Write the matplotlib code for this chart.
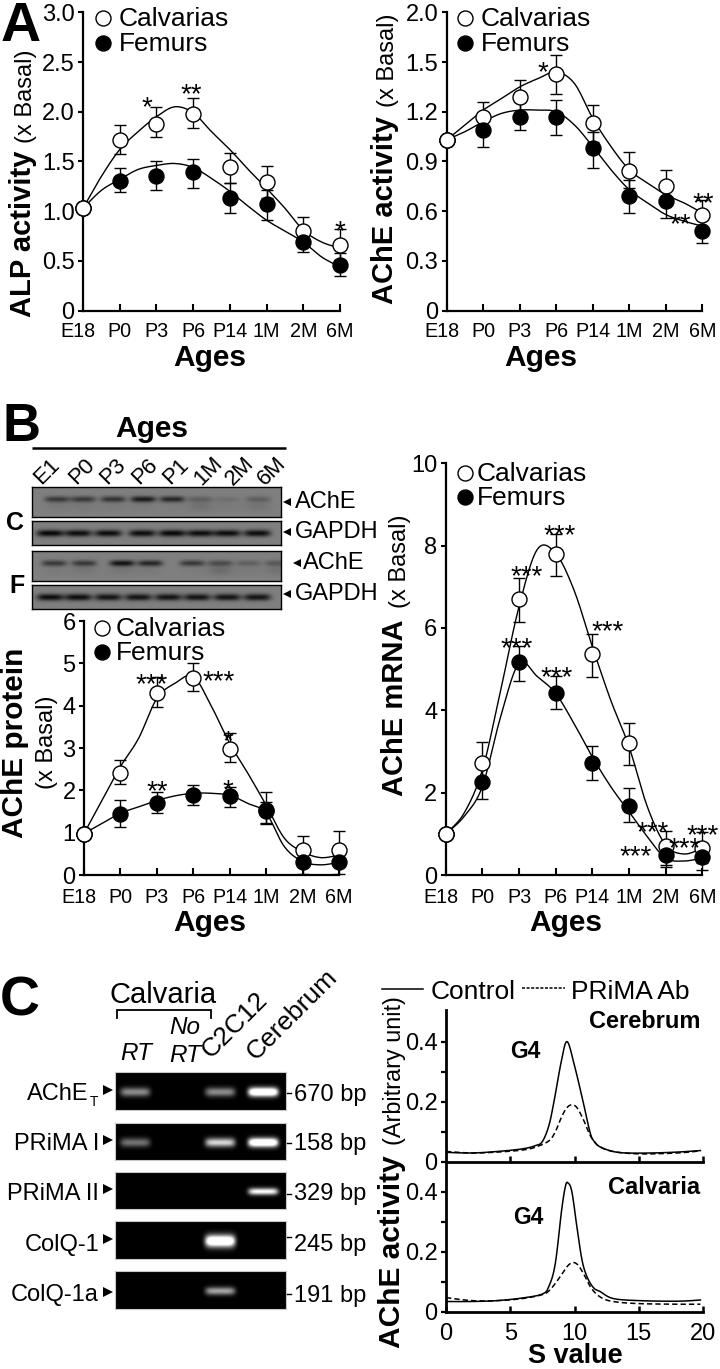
import numpy as np
import matplotlib
matplotlib.use('Agg')
import matplotlib.pyplot as plt
from matplotlib.transforms import ScaledTranslation

plt.rcParams['font.family'] = ['Liberation Sans', 'DejaVu Sans']

W, H = 720, 1369

ages = ['E18', 'P0', 'P3', 'P6', 'P14', '1M', '2M', '6M']

# ALP activity
alp_calv = [1.03, 1.72, 1.88, 1.98, 1.44, 1.29, 0.80, 0.66]
alp_calv_top = [1.03, 1.87, 2.05, 2.14, 1.59, 1.45, 0.94, 0.82]
alp_calv_low = [1.03, 1.58, 1.75, 1.84, 1.28, 1.13, 0.65, 0.51]
alp_fem = [1.03, 1.30, 1.35, 1.39, 1.13, 1.07, 0.69, 0.46]
alp_fem_top = [1.03, 1.43, 1.51, 1.53, 1.28, 1.21, 0.80, 0.58]
alp_fem_low = [1.03, 1.19, 1.21, 1.23, 0.98, 0.91, 0.59, 0.35]
alp_calv_line = [1.03, 1.35, 1.62, 1.80, 1.95, 2.05, 1.99, 1.80, 1.62, 1.42, 1.23, 1.03, 0.81, 0.69, 0.63]
alp_fem_line = [1.03, 1.21, 1.32, 1.42, 1.46, 1.48, 1.44, 1.33, 1.20, 1.05, 0.91, 0.80, 0.69, 0.54, 0.44]

# AChE activity, the axis has equal steps of 0.3 and its top tick is labelled 2.0
ache_calv = [1.03, 1.17, 1.29, 1.43, 1.13, 0.84, 0.75, 0.58]
ache_calv_top = [1.03, 1.26, 1.39, 1.54, 1.24, 0.96, 0.85, 0.67]
ache_calv_low = [1.03, 1.08, 1.19, 1.31, 1.02, 0.74, 0.65, 0.49]
ache_fem = [1.03, 1.09, 1.17, 1.17, 0.98, 0.69, 0.66, 0.48]
ache_fem_top = [1.03, 1.19, 1.26, 1.27, 1.08, 0.79, 0.76, 0.56]
ache_fem_low = [1.03, 0.99, 1.09, 1.06, 0.86, 0.59, 0.56, 0.41]
ache_calv_line = [1.03, 1.12, 1.21, 1.28, 1.35, 1.40, 1.44, 1.37, 1.16, 0.99, 0.85, 0.77, 0.70, 0.65, 0.59]
ache_fem_line = [1.03, 1.08, 1.14, 1.19, 1.21, 1.21, 1.20, 1.12, 0.99, 0.85, 0.73, 0.65, 0.58, 0.54, 0.51]

# AChE protein
prot_calv = [0.98, 2.42, 4.29, 4.66, 2.98, 1.54, 0.58, 0.58]
prot_calv_top = [0.98, 2.72, 4.68, 5.00, 3.35, 1.95, 0.92, 1.04]
prot_calv_low = [0.98, 2.15, 3.98, 4.35, 2.67, 1.20, 0.30, 0.30]
prot_fem = [0.98, 1.45, 1.71, 1.90, 1.87, 1.52, 0.30, 0.30]
prot_fem_top = [0.98, 1.77, 1.97, 2.13, 2.09, 1.73, 0.61, 0.61]
prot_fem_low = [0.98, 1.14, 1.47, 1.65, 1.61, 1.22, 0.02, 0.02]
prot_calv_line = [0.98, 1.77, 2.56, 3.23, 4.17, 4.53, 4.69, 3.98, 3.11, 2.40, 1.65, 0.87, 0.55, 0.41, 0.47]
prot_fem_line = [0.98, 1.22, 1.46, 1.61, 1.76, 1.87, 1.93, 1.93, 1.88, 1.69, 1.46, 0.67, 0.32, 0.24, 0.30]

# AChE mRNA
mrna_calv = [1.00, 2.71, 6.71, 7.80, 5.36, 3.21, 0.70, 0.66]
mrna_calv_top = [1.00, 3.23, 7.22, 8.29, 5.85, 3.70, 1.08, 1.05]
mrna_calv_low = [1.00, 2.20, 6.15, 7.26, 4.82, 2.67, 0.24, 0.28]
mrna_fem = [1.00, 2.27, 5.17, 4.41, 2.73, 1.68, 0.48, 0.44]
mrna_fem_top = [1.00, 2.63, 5.57, 4.84, 3.14, 2.11, 0.77, 0.77]
mrna_fem_low = [1.00, 1.84, 4.71, 4.02, 2.31, 1.28, 0.19, 0.11]
mrna_calv_line = [1.00, 1.50, 2.55, 4.49, 6.52, 7.91, 7.81, 6.92, 5.55, 4.25, 3.12, 1.66, 0.73, 0.51, 0.65]
mrna_fem_line = [1.00, 1.42, 2.15, 3.85, 5.14, 4.82, 4.41, 3.68, 2.87, 2.15, 1.54, 0.93, 0.41, 0.34, 0.41]

# western blot band strengths, one per lane
c_ache_main = [.55, .55, .60, .80, .70, .25, .12, .25]
c_ache_lower = [.15, .15, .10, .10, .05, .30, .10, .25]
f_ache_main = [.55, .55, .85, .70, .55, .40, .25, .30]
f_ache_lower = [.10, .20, .20, .10, .05, .40, .10, .25]
c_gapdh = [.95, .90, .90, .90, .95, .90, .90, .90]
f_gapdh = [.90, .90, .85, .85, .85, .85, .85, .85]
lane_names = ['E1', 'P0', 'P3', 'P6', 'P1', '1M', '2M', '6M']

# RT-PCR gels, band brightness for RT, No RT, C2C12, Cerebrum
gel_names = ['PRiMA I', 'PRiMA II', 'ColQ-1', 'ColQ-1a']
gel_sizes = ['670 bp', '158 bp', '329 bp', '245 bp', '191 bp']
gel_ache = [.55, 0, .55, 1.4]
gel_prima1 = [.45, 0, .85, 1.4]
gel_prima2 = [0, 0, 0, 1.0]
gel_colq1 = [0, 0, 1.4, 0]
gel_colq1a = [0, 0, .65, 0]

# sucrose gradient profiles
cer_ctrl_s = [0, 2, 4, 6, 7, 7.5, 8, 8.4, 9, 9.43, 10, 10.67, 11.2, 11.5, 12, 13, 14, 16, 18, 19.8]
cer_ctrl = [.032, .030, .035, .044, .055, .068, .12, .20, .34, .40, .32, .20, .10, .07, .05, .035, .030, .030, .033, .038]
cer_ab_s = [0, 2, 4, 6, 7, 8, 8.5, 9, 9.4, 9.8, 10.2, 10.7, 11.2, 11.6, 12, 13, 15, 18, 19.8]
cer_ab = [.035, .030, .033, .040, .050, .070, .10, .15, .18, .19, .18, .14, .09, .065, .05, .035, .027, .030, .037]
cal_ctrl_s = [0, 2, 4, 6, 7.5, 8, 8.5, 9, 9.3, 9.5, 9.8, 10.2, 10.6, 11, 11.5, 12, 13, 15, 18, 19.8]
cal_ctrl = [.035, .035, .038, .047, .060, .085, .16, .34, .42, .43, .40, .28, .17, .115, .08, .068, .045, .038, .036, .040]
cal_ab_s = [0, 2, 4, 6, 7.5, 8, 8.5, 9, 9.5, 9.9, 10.3, 10.8, 11.3, 12, 13, 15, 18, 19.8]
cal_ab = [.048, .038, .038, .045, .058, .070, .095, .125, .155, .165, .155, .12, .08, .05, .035, .028, .026, .026]

fig = plt.figure(figsize=(W / 100, H / 100), dpi=100)


def make_ax(left, right, top, bottom):
    ax = fig.add_axes([left / W, 1 - bottom / H, (right - left) / W, (bottom - top) / H])
    ax.patch.set_visible(False)
    return ax


over = make_ax(0, W, 0, H)
over.set_xlim(0, W)
over.set_ylim(H, 0)
over.axis('off')
over.set_zorder(10)


def txt(x, y, s, size=17, ha='left', va='center', **kw):
    over.text(x, y, s, fontsize=size, ha=ha, va=va, color='black', **kw)


def smooth(x, y, n=12):
    # Catmull-Rom through the points
    p = np.column_stack([x, y]).astype(float)
    p = np.vstack([p[0], p, p[-1]])
    out = []
    for i in range(1, len(p) - 2):
        t = np.linspace(0, 1, n, endpoint=False)[:, None]
        out.append(0.5 * (2 * p[i] + (p[i + 1] - p[i - 1]) * t
                          + (2 * p[i - 1] - 5 * p[i] + 4 * p[i + 1] - p[i + 2]) * t ** 2
                          + (3 * p[i] - p[i - 1] - 3 * p[i + 1] + p[i + 2]) * t ** 3))
    out.append(p[-2:-1])
    out = np.vstack(out)
    return out[:, 0], out[:, 1]


def age_panel(box, ylim, yticks, ylabels, calv, calv_top, calv_low, fem, fem_top, fem_low, calv_line, fem_line, pad):
    ax = make_ax(*box)
    x = np.arange(8)
    lx = np.arange(15) / 2
    for line in (calv_line, fem_line):
        sx, sy = smooth(lx, line)
        ax.plot(sx, sy, color='black', lw=1.0, zorder=1, clip_on=False)
    for v, top, low in ((calv, calv_top, calv_low), (fem, fem_top, fem_low)):
        v = np.array(v)
        ax.errorbar(x, v, yerr=[v - np.array(low), np.array(top) - v], fmt='none', ecolor='black',
                    elinewidth=1.0, capsize=4.3, capthick=1.0, zorder=2, clip_on=False)
    ax.plot(x, calv, 'o', ms=10.8, mfc='white', mec='black', mew=1.0, zorder=3, clip_on=False)
    ax.plot(x, fem, 'o', ms=10.8, mfc='black', mec='black', mew=1.0, zorder=4, clip_on=False)
    ax.plot(x[:1], calv[:1], 'o', ms=10.8, mfc='white', mec='black', mew=1.0, zorder=5, clip_on=False)
    ax.set_xlim(0, 7)
    ax.set_ylim(*ylim)
    ax.set_xticks(x)
    ax.set_xticklabels(ages, fontsize=14.2)
    ax.set_yticks(yticks)
    ax.set_yticklabels(ylabels, fontsize=17)
    ax.tick_params(axis='x', direction='in', length=5, width=1.5, pad=pad)
    ax.tick_params(axis='y', direction='out', length=3.6, width=1.5, pad=2.5)
    e18 = ax.get_xticklabels()[0]
    e18.set_transform(e18.get_transform() + ScaledTranslation(-5 / 100, 0, fig.dpi_scale_trans))
    ax.spines['top'].set_visible(False)
    ax.spines['right'].set_visible(False)
    ax.spines['left'].set_linewidth(1.6)
    ax.spines['bottom'].set_linewidth(1.6)
    return ax


age_panel((83, 340, 12.3, 310.7), (0, 3), [0, .5, 1, 1.5, 2, 2.5, 3], ['0', '0.5', '1.0', '1.5', '2.0', '2.5', '3.0'],
          alp_calv, alp_calv_top, alp_calv_low, alp_fem, alp_fem_top, alp_fem_low, alp_calv_line, alp_fem_line, 8)
age_panel((446.7, 702.3, 12.3, 310.7), (0, 1.8), [0, .3, .6, .9, 1.2, 1.5, 1.8], ['0', '0.3', '0.6', '0.9', '1.2', '1.5', '2.0'],
          ache_calv, ache_calv_top, ache_calv_low, ache_fem, ache_fem_top, ache_fem_low, ache_calv_line, ache_fem_line, 8)
age_panel((84, 339, 621, 875), (0, 6), [0, 1, 2, 3, 4, 5, 6], ['0', '1', '2', '3', '4', '5', '6'],
          prot_calv, prot_calv_top, prot_calv_low, prot_fem, prot_fem_top, prot_fem_low, prot_calv_line, prot_fem_line, 9.5)
age_panel((445.7, 702.3, 463.3, 875), (0, 10), [0, 2, 4, 6, 8, 10], ['0', '2', '4', '6', '8', '10'],
          mrna_calv, mrna_calv_top, mrna_calv_low, mrna_fem, mrna_fem_top, mrna_fem_low, mrna_calv_line, mrna_fem_line, 9.5)

# legends of the age panels
for cx, tx, y1, y2 in ((103, 119, 18, 43), (465, 481, 18, 43), (102, 116, 628, 652), (465, 477, 473, 497)):
    over.plot([cx], [y1], 'o', ms=10.8, mfc='white', mec='black', mew=1.0)
    over.plot([cx], [y2], 'o', ms=10.8, mfc='black', mec='black', mew=1.0)
    txt(tx, y1 + 1, 'Calvarias', 19)
    txt(tx, y2 + 1, 'Femurs', 19)

# axis titles
txt(23, 234, 'ALP activity', 21, ha='center', rotation=90, fontweight='bold')
txt(26, 96, '(x Basal)', 17, ha='center', rotation=90)
txt(385, 210, 'AChE activity', 21, ha='center', rotation=90, fontweight='bold')
txt(388, 60, '(x Basal)', 17, ha='center', rotation=90)
txt(15, 743, 'AChE protein', 21.4, ha='center', rotation=90, fontweight='bold')
txt(47, 742, '(x Basal)', 17, ha='center', rotation=90)
txt(395, 708, 'AChE mRNA', 21, ha='center', rotation=90, fontweight='bold')
txt(400, 561, '(x Basal)', 17, ha='center', rotation=90)
for x, y in ((210, 358), (541, 358), (210, 923), (566, 923)):
    txt(x, y, 'Ages', 21.5, ha='center', fontweight='bold')

# significance stars, ink centre given, the glyph sits 16 px above its baseline
stars = [(147, 99, '*'), (191, 86, '**'), (340, 223, '*'),
         (543, 64, '*'), (703, 195, '**'), (680, 216, '**'),
         (152, 676, '***'), (219, 673, '***'), (228, 733, '*'), (157, 783, '**'), (228, 782, '*'),
         (560, 527, '***'), (527, 568, '***'), (608, 623, '***'), (517, 640, '***'), (557, 669, '***'),
         (653, 824, '***'), (636, 848, '***'), (685, 840, '***'), (703, 827, '***')]
for x, y, s in stars:
    txt(x, y + 16, s, 20, ha='center', va='baseline')

# panel letters
txt(1, 41, 'A', 40, va='baseline', fontweight='bold')
txt(2, 427, 'B', 38, fontweight='bold')
txt(0, 1001, 'C', 40, fontweight='bold')
txt(6, 523, 'C', 18, fontweight='bold')
txt(9, 586, 'F', 18, fontweight='bold')


def blot(box, lanes, main, lower=None, sx=13.5, sy=3.4):
    left, right, top, bottom = box
    ax = make_ax(left, right, top, bottom)
    xx, yy = np.meshgrid(np.arange(left, right, 0.5), np.arange(top, bottom, 0.5))
    ymid = (top + bottom) / 2
    img = 0.5 * np.ones_like(xx)
    for i, lx in enumerate(lanes):
        img -= 0.5 * main[i] * np.exp(-((xx - lx) / sx) ** 4 - ((yy - ymid + (3 if lower else 0)) / sy) ** 2)
        if lower:
            img -= 0.2 * lower[i] * np.exp(-((xx - lx) / sx) ** 2 - ((yy - ymid - 4) / 5) ** 2)
    ax.imshow(img, cmap='gray', vmin=0, vmax=1, aspect='auto', extent=(left, right, bottom, top), interpolation='bilinear')
    ax.set_xticks([])
    ax.set_yticks([])
    for s in ax.spines.values():
        s.set_linewidth(1.0)


c_lanes1 = [57, 83, 113, 143, 172, 200, 227, 258]
c_lanes2 = [50, 78, 108, 142, 172, 200, 227, 257]
f_lanes1 = [54, 84, 122, 150, 192, 220, 248, 277]
f_lanes2 = [50, 78, 108, 138, 168, 197, 227, 257]
blot((32, 281, 487, 517), c_lanes1, c_ache_main, c_ache_lower, sx=12.5, sy=3)
blot((32, 281, 521, 545), c_lanes2, c_gapdh)
blot((32, 281, 551, 581), f_lanes1, f_ache_main, f_ache_lower, sx=12.5, sy=3)
blot((32, 281, 585, 609), f_lanes2, f_gapdh)

txt(152, 429, 'Ages', 21.5, ha='center', fontweight='bold')
over.plot([32, 286], [448, 448], color='black', lw=1.8, solid_capstyle='butt')
for i, name in enumerate(lane_names):
    lx = [47, 82, 113, 145, 176, 208, 240, 272][i]
    txt(lx, 471, name, 16, ha='center', rotation=45, rotation_mode='anchor')
for ax_x, t_x, y, s in ((287, 295, 502, 'AChE'), (287, 295, 532, 'GAPDH'), (297, 303, 563, 'AChE'), (287, 295, 594, 'GAPDH')):
    over.plot([ax_x], [y], '<', ms=6, color='black', mew=0)
    txt(t_x, y, s, 17)


def gel(top, bottom, bands, half_h):
    left, right = 115, 286
    ax = make_ax(left, right, top, bottom)
    xx, yy = np.meshgrid(np.arange(left, right, 0.5), np.arange(top, bottom, 0.5))
    ymid = top + (bottom - top) * 0.52
    img = np.zeros_like(xx)
    for b, lx in zip(bands, [135, 185, 220, 263]):
        img += b * np.exp(-((xx - lx) / 15) ** 6 - ((yy - ymid) / half_h) ** 2)
    ax.imshow(np.clip(img, 0, 1), cmap='gray', vmin=0, vmax=1, aspect='auto', extent=(left, right, bottom, top), interpolation='bilinear')
    ax.set_xticks([])
    ax.set_yticks([])
    for s in ax.spines.values():
        s.set_color('#c8c8c8')
        s.set_linewidth(0.8)


gel(1072, 1110, gel_ache, 4.5)
gel(1123, 1160, gel_prima1, 4.5)
gel(1172, 1209, gel_prima2, 3.5)
gel(1221, 1259, gel_colq1, 6)
gel(1271, 1309, gel_colq1a, 4)

txt(89, 1094, 'AChE', 17, ha='right')
txt(90, 1102, 'T', 10)
for y, s in zip((1144, 1194, 1245, 1295), gel_names):
    txt(99, y, s, 17, ha='right')
for y in (1090, 1140, 1189, 1239, 1292):
    over.plot([108], [y], '>', ms=6.5, color='black', mew=0)
for y, tick_y, s in zip((1095, 1144, 1194, 1245, 1296), (1093, 1143, 1194, 1237, 1294), gel_sizes):
    over.plot([287, 291], [tick_y, tick_y], color='black', lw=1)
    txt(294, y, s, 17)

txt(163, 995, 'Calvaria', 21, ha='center')
over.plot([116.5, 116.5, 211, 211], [1018, 1009.5, 1009.5, 1018], color='black', lw=1.3, solid_joinstyle='miter')
txt(185, 1028, 'No', 17.5, ha='center', style='italic')
txt(185, 1056, 'RT', 17.5, ha='center', style='italic')
txt(136, 1053, 'RT', 17.5, ha='center', style='italic')
txt(214, 1063, 'C2C12', 19, ha='left', va='bottom', rotation=45, rotation_mode='anchor')
txt(259, 1065, 'Cerebrum', 19, ha='left', va='bottom', rotation=45, rotation_mode='anchor')


def profile(box, ylim, xticks_labels):
    ax = make_ax(*box)
    ax.set_xlim(0, 20)
    ax.set_ylim(*ylim)
    ax.set_yticks([0, .1, .2, .3, .4])
    ax.set_yticklabels(['0', '', '0.2', '', '0.4'], fontsize=17)
    ax.set_xticks([5, 10, 15, 20] if not xticks_labels else [0, 5, 10, 15, 20])
    ax.set_xticklabels(xticks_labels if xticks_labels else [''] * 4, fontsize=17)
    ax.tick_params(axis='x', direction='in', length=4.5, width=1.8, pad=8)
    ax.tick_params(axis='y', direction='out', length=3.6, width=1.6, pad=2.5)
    ax.spines['top'].set_visible(False)
    ax.spines['right'].set_visible(False)
    ax.spines['left'].set_linewidth(2)
    ax.spines['bottom'].set_linewidth(2)
    return ax


ax_cer = profile((446, 703, 1010, 1162), (0, .505), None)
ax_cal = profile((446, 703, 1162, 1312), (0, .5), ['0', '5', '10', '15', '20'])
sx, sy = smooth(cer_ctrl_s, cer_ctrl, 6)
ax_cer.plot(sx, sy, color='black', lw=1.1)
sx, sy = smooth(cer_ab_s, cer_ab, 6)
ax_cer.plot(sx, sy, color='black', lw=1.1, ls=(0, (3.5, 2)))
sx, sy = smooth(cal_ctrl_s, cal_ctrl, 6)
ax_cal.plot(sx, sy, color='black', lw=1.1)
sx, sy = smooth(cal_ab_s, cal_ab, 6)
ax_cal.plot(sx, sy, color='black', lw=1.1, ls=(0, (3.5, 2)))

over.plot([382, 423], [989, 989], color='black', lw=1.1)
txt(431, 992, 'Control', 19)
over.plot([522, 565], [988, 988], color='black', lw=1.1, ls=(0, (2, 1)))
txt(571, 992, 'PRiMA Ab', 19)
txt(700, 1022, 'Cerebrum', 17, ha='right', fontweight='bold')
txt(700, 1187, 'Calvaria', 17, ha='right', fontweight='bold')
txt(525, 1052, 'G4', 16.5, ha='center', fontweight='bold')
txt(528, 1217, 'G4', 16.5, ha='center', fontweight='bold')
txt(392, 1252, 'AChE activity', 21.5, ha='center', rotation=90, fontweight='bold')
txt(394, 1071, '(Arbitrary unit)', 16.8, ha='center', rotation=90)
txt(575, 1363, 'S value', 19.5, ha='center', va='baseline', fontweight='bold')

fig.savefig('out.png', dpi=100)
